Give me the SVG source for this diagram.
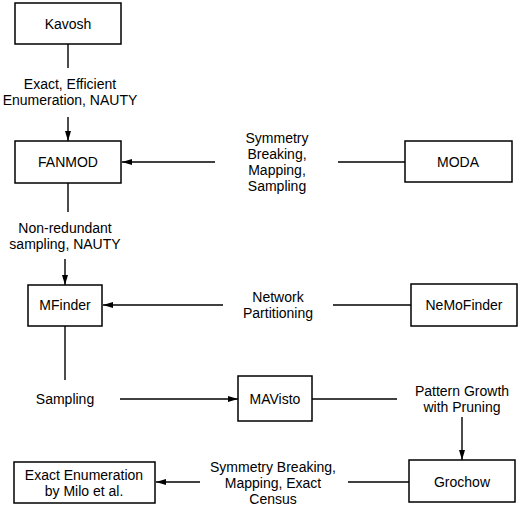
<svg xmlns="http://www.w3.org/2000/svg" width="520" height="507" viewBox="0 0 520 507">
<style>
.box{fill:#fff;stroke:#000;stroke-width:1.5}
.t{font-family:"Liberation Sans",Arial,sans-serif;font-size:14px;fill:#000;text-anchor:middle}
.c{stroke:#000;stroke-width:1.4;fill:none}
</style>
<defs>
<marker id="ah" viewBox="0 0 10 6" refX="10" refY="3" markerWidth="10" markerHeight="6" markerUnits="userSpaceOnUse" orient="auto">
<path d="M0,0 L10,3 L0,6 Z" fill="#000"/>
</marker>
</defs>
<rect width="520" height="507" fill="#fff"/>
<g id="connectors">
<line class="c" x1="68" y1="44" x2="68" y2="68"/>
<line class="c" x1="68" y1="117" x2="68" y2="141" marker-end="url(#ah)"/>
<line class="c" x1="405" y1="162" x2="338" y2="162"/>
<line class="c" x1="215" y1="162" x2="122" y2="162" marker-end="url(#ah)"/>
<line class="c" x1="68" y1="183" x2="68" y2="212"/>
<line class="c" x1="65" y1="259" x2="65" y2="285" marker-end="url(#ah)"/>
<line class="c" x1="411" y1="305" x2="333" y2="305"/>
<line class="c" x1="223" y1="305" x2="103" y2="305" marker-end="url(#ah)"/>
<line class="c" x1="65" y1="326" x2="65" y2="380"/>
<line class="c" x1="120" y1="399" x2="238" y2="399" marker-end="url(#ah)"/>
<line class="c" x1="312" y1="399" x2="397" y2="399"/>
<line class="c" x1="462" y1="417" x2="462" y2="460" marker-end="url(#ah)"/>
<line class="c" x1="409" y1="482" x2="348" y2="482"/>
<line class="c" x1="200" y1="482" x2="156" y2="482" marker-end="url(#ah)"/>
<text class="t" x="70" y="89">Exact, Efficient</text>
<text class="t" x="70" y="105">Enumeration, NAUTY</text>
<text class="t" x="277" y="143">Symmetry</text>
<text class="t" x="277" y="159">Breaking,</text>
<text class="t" x="277" y="175">Mapping,</text>
<text class="t" x="277" y="191">Sampling</text>
<text class="t" x="65" y="233">Non-redundant</text>
<text class="t" x="65" y="249">sampling, NAUTY</text>
<text class="t" x="278" y="302">Network</text>
<text class="t" x="278" y="318">Partitioning</text>
<text class="t" x="65" y="404">Sampling</text>
<text class="t" x="462" y="396">Pattern Growth</text>
<text class="t" x="462" y="412">with Pruning</text>
<text class="t" x="273" y="472">Symmetry Breaking,</text>
<text class="t" x="273" y="488">Mapping, Exact</text>
<text class="t" x="273" y="504">Census</text>
</g>
<g id="kavosh"><rect class="box" x="15" y="3" width="106" height="41"/><text class="t" x="68" y="29">Kavosh</text></g>
<g id="fanmod"><rect class="box" x="15" y="141" width="106" height="42"/><text class="t" x="68" y="167">FANMOD</text></g>
<g id="moda"><rect class="box" x="405" y="141" width="107" height="41"/><text class="t" x="458" y="167">MODA</text></g>
<g id="mfinder"><rect class="box" x="28" y="285" width="74" height="41"/><text class="t" x="65" y="310">MFinder</text></g>
<g id="nemofinder"><rect class="box" x="411" y="284" width="106" height="42"/><text class="t" x="464" y="310">NeMoFinder</text></g>
<g id="mavisto"><rect class="box" x="238" y="376" width="74" height="45"/><text class="t" x="275" y="404">MAVisto</text></g>
<g id="grochow"><rect class="box" x="409" y="460" width="106" height="42"/><text class="t" x="462" y="487">Grochow</text></g>
<g id="milo"><rect class="box" x="14" y="462" width="141" height="41"/><text class="t" x="84" y="480">Exact Enumeration</text><text class="t" x="84" y="496">by Milo et al.</text></g>
</svg>
